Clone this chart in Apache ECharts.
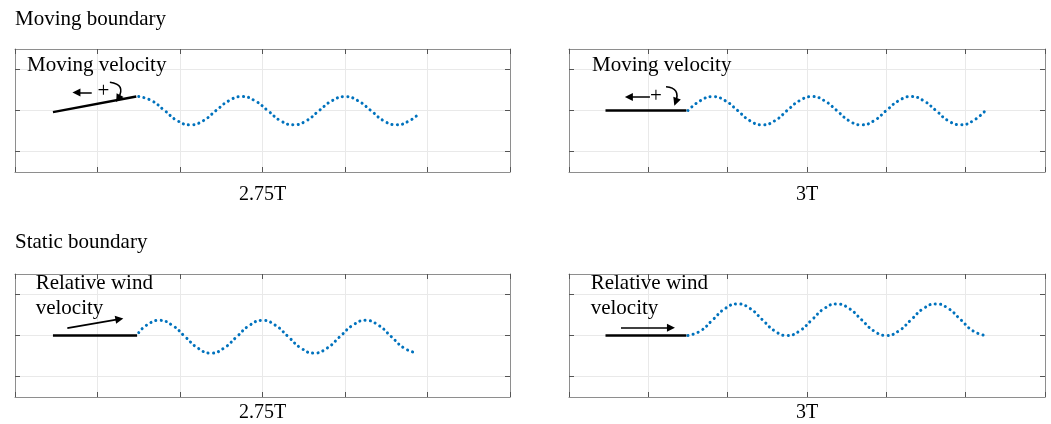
<!DOCTYPE html>
<html>
<head>
<meta charset="utf-8">
<script src="https://cdn.jsdelivr.net/npm/echarts@6/dist/echarts.min.js"></script>
<style>
html,body{margin:0;padding:0;background:#fff;}
#c{width:1051px;height:424px;}
</style>
</head>
<body>
<div id="c"></div>
<script>
// ---------- data ----------
const sectionTitles = ['Moving boundary', 'Static boundary'];
const xNames = ['2.75T', '3T', '2.75T', '3T'];
const annotTexts = ['Moving velocity', 'Moving velocity', 'Relative wind\nvelocity', 'Relative wind\nvelocity'];
const yTickValues = [-1, 0, 1];

// plates (boundary)
const plateTL = [[0.46, -0.04], [1.47, 0.34]];
const plateTR = [[0.46, 0], [1.48, 0]];
const plateBL = [[0.46, 0], [1.48, 0]];
const plateBR = [[0.46, 0], [1.48, 0]];

// wakes
const waveTL = [
  [1.50, 0.34], [1.656, 0.24], [1.8125, 0], [1.969, -0.25], [2.125, -0.35], [2.281, -0.25],
  [2.4375, 0], [2.594, 0.24], [2.75, 0.34], [2.906, 0.24], [3.0625, 0], [3.219, -0.25],
  [3.375, -0.35], [3.531, -0.25], [3.6875, 0], [3.844, 0.24], [4.0, 0.34], [4.156, 0.24],
  [4.3125, 0], [4.469, -0.25], [4.625, -0.35], [4.781, -0.25], [4.90, -0.07]
];
const waveTR = [
  [1.5, 0], [1.656, 0.24], [1.8125, 0.34], [1.969, 0.24], [2.125, 0], [2.281, -0.25],
  [2.4375, -0.35], [2.594, -0.25], [2.75, 0], [2.906, 0.24], [3.0625, 0.34], [3.219, 0.24],
  [3.375, 0], [3.531, -0.25], [3.6875, -0.35], [3.844, -0.25], [4.0, 0], [4.156, 0.24],
  [4.3125, 0.34], [4.469, 0.24], [4.625, 0], [4.781, -0.25], [4.9375, -0.35], [5.094, -0.25],
  [5.25, 0]
];
const waveBL = [
  [1.5, 0.07], [1.594, 0.25], [1.75, 0.37], [1.906, 0.25], [2.0625, -0.03], [2.219, -0.31],
  [2.375, -0.43], [2.531, -0.31], [2.6875, -0.03], [2.844, 0.25], [3.0, 0.37], [3.156, 0.25],
  [3.3125, -0.03], [3.469, -0.31], [3.625, -0.43], [3.781, -0.31], [3.9375, -0.03], [4.094, 0.25],
  [4.25, 0.37], [4.406, 0.25], [4.5625, -0.03], [4.719, -0.31], [4.875, -0.43]
];
const waveBR = [
  [1.5, 0], [1.656, 0.11], [1.8125, 0.385], [1.969, 0.66], [2.125, 0.77], [2.281, 0.66],
  [2.4375, 0.385], [2.594, 0.11], [2.75, 0], [2.906, 0.11], [3.0625, 0.385], [3.219, 0.66],
  [3.375, 0.77], [3.531, 0.66], [3.6875, 0.385], [3.844, 0.11], [4.0, 0], [4.156, 0.11],
  [4.3125, 0.385], [4.469, 0.66], [4.625, 0.77], [4.781, 0.66], [4.9375, 0.385], [5.094, 0.11],
  [5.25, 0]
];

// annotation arrows [from, to, curveness]
const arrowsTL = [[[0.93, 0.44], [0.745, 0.44], 0], [[1.15, 0.69], [1.25, 0.29], 0.75]];
const arrowsTR = [[[1.02, 0.33], [0.755, 0.33], 0], [[1.223, 0.58], [1.345, 0.21], 0.65]];
const arrowsBL = [[[0.634, 0.18], [1.265, 0.40], 0]];
const arrowsBR = [[[0.655, 0.19], [1.285, 0.19], 0]];

// ---------- layout ----------
const grids = [
  {left: 15, top: 49, width: 495, height: 123},
  {left: 569, top: 49, width: 476, height: 123},
  {left: 15, top: 274, width: 495, height: 123},
  {left: 569, top: 274, width: 476, height: 123}
];
const nameGaps = [12.5, 12.5, 6, 6];
const plates = [plateTL, plateTR, plateBL, plateBR];
const waves = [waveTL, waveTR, waveBL, waveBR];
const arrows = [arrowsTL, arrowsTR, arrowsBL, arrowsBR];

const FONT = "'Liberation Serif', 'Times New Roman', serif";
const BOX = '#8e8e8e', TICK = '#555555', GRIDC = '#e9e9e9';

const xAxis = [], yAxis = [], series = [];
grids.forEach((g, i) => {
  const common = {
    type: 'value', gridIndex: i,
    axisLine: {show: true, onZero: false, lineStyle: {color: BOX, width: 1}},
    axisTick: {show: true, inside: true, length: 5, lineStyle: {color: TICK, width: 1}},
    axisLabel: {show: false}
  };
  xAxis.push(Object.assign({}, common, {
    min: 0, max: 6, interval: 1, position: 'bottom',
    splitLine: {show: true, lineStyle: {color: GRIDC, width: 1}},
    name: xNames[i], nameLocation: 'middle', nameGap: nameGaps[i],
    nameTextStyle: {fontFamily: FONT, fontSize: 20, color: '#000'}
  }));
  xAxis.push(Object.assign({}, common, {
    min: 0, max: 6, interval: 1, position: 'top', splitLine: {show: false}
  }));
  yAxis.push(Object.assign({}, common, {
    min: -1.5, max: 1.5, position: 'left',
    axisTick: {show: true, inside: true, length: 5, customValues: yTickValues, lineStyle: {color: TICK, width: 1}},
    axisLabel: {show: false, customValues: yTickValues},
    splitLine: {show: true, lineStyle: {color: GRIDC, width: 1}}
  }));
  yAxis.push(Object.assign({}, common, {
    min: -1.5, max: 1.5, position: 'right',
    axisTick: {show: true, inside: true, length: 5, customValues: yTickValues, lineStyle: {color: TICK, width: 1}},
    axisLabel: {show: false, customValues: yTickValues},
    splitLine: {show: false}
  }));

  series.push({
    type: 'line', xAxisIndex: 2 * i, yAxisIndex: 2 * i, data: plates[i],
    showSymbol: false, symbol: 'none', silent: true,
    lineStyle: {color: '#000', width: 2.5}, z: 3
  });
  series.push({
    type: 'line', xAxisIndex: 2 * i, yAxisIndex: 2 * i, data: waves[i],
    smooth: true, showSymbol: false, symbol: 'none', silent: true,
    lineStyle: {color: '#0072BD', width: 3, type: [0.1, 5.2], cap: 'round'}, z: 3
  });
  series.push({
    type: 'lines', coordinateSystem: 'cartesian2d', xAxisIndex: 2 * i, yAxisIndex: 2 * i,
    symbol: ['none', 'triangle'], symbolSize: 8, silent: true, z: 4,
    lineStyle: {color: '#000', width: 1.6, opacity: 1},
    data: arrows[i].map(a => ({coords: [a[0], a[1]], lineStyle: {curveness: a[2]}}))
  });
});

const txt = (x, y, text, extra) => ({
  type: 'text', x: x, y: y, silent: true, z: 100,
  style: Object.assign({text: text, font: "21px " + FONT, fill: '#000', align: 'left', verticalAlign: 'middle'}, extra || {})
});

const graphic = [
  txt(15, 19.5, sectionTitles[0]),
  txt(15, 242.5, sectionTitles[1]),
  txt(27, 65.6, annotTexts[0]),
  txt(592, 65.6, annotTexts[1]),
  txt(103.3, 91.5, '+', {align: 'center'}),
  txt(656, 96.5, '+', {align: 'center'}),
  txt(35.7, 296, annotTexts[2], {lineHeight: 25}),
  txt(590.7, 296, annotTexts[3], {lineHeight: 25})
];

const chart = echarts.init(document.getElementById('c'), null, {renderer: 'canvas'});
chart.setOption({
  animation: false,
  backgroundColor: '#ffffff',
  grid: grids.map(g => Object.assign({containLabel: false}, g)),
  xAxis: xAxis,
  yAxis: yAxis,
  series: series,
  graphic: graphic
});
</script>
</body>
</html>
